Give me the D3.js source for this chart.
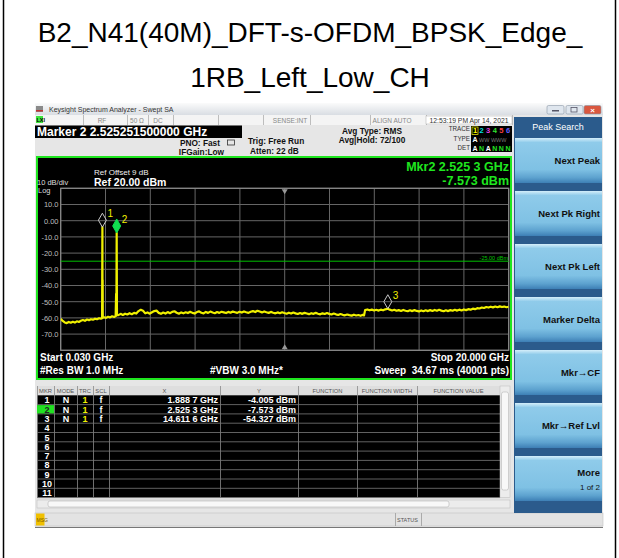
<!DOCTYPE html>
<html lang="en">
<head>
<meta charset="UTF-8">
<title>B2_N41(40M) spectrum</title>
<script src="https://cdn.jsdelivr.net/npm/d3@7"></script>
<style>
  body { margin: 0; background: #fff; }
  svg { display: block; font-family: "Liberation Sans", Arial, sans-serif; }
</style>
</head>
<body>
<svg id="chart" width="619" height="558"></svg>
<script>
// ---- data ----
const titleLines = ["B2_N41(40M)_DFT-s-OFDM_BPSK_Edge_", "1RB_Left_Low_CH"];

const yTickValues = [10, 0, -10, -20, -30, -40, -50, -60, -70];
const yTickLabels = ["10.0", "0.00", "-10.0", "-20.0", "-30.0", "-40.0", "-50.0", "-60.0", "-70.0"];

const displayLine = -25;

// trace 1: [GHz, dBm]
const tracePoints = [
  [0.03,-60.6],[0.12,-61.9],[0.21,-62.8],[0.30,-63.2],[0.39,-62.5],[0.48,-63.0],[0.57,-62.4],
  [0.66,-62.9],[0.75,-62.1],[0.84,-62.5],[0.93,-61.8],[1.02,-61.3],[1.11,-61.8],[1.20,-61.0],
  [1.29,-61.4],[1.38,-60.8],[1.47,-61.1],[1.56,-60.5],[1.65,-60.8],[1.74,-60.2],[1.82,-60.5],
  [1.875,-60.0],[1.8887,-4.005],[1.893,-60.2],[1.900,-36.6],[1.906,-59.8],
  [1.96,-59.6],[2.05,-60.0],[2.14,-59.3],[2.23,-59.7],[2.32,-59.0],[2.41,-59.4],[2.48,-58.9],
  [2.500,-45.2],[2.512,-58.6],[2.5253,-7.573],[2.538,-57.9],
  [2.60,-58.3],[2.70,-57.5],[2.80,-58.2],[2.90,-57.4],[3.00,-57.9],[3.10,-57.1],[3.20,-57.7],
  [3.30,-56.9],[3.40,-57.3],[3.50,-55.8],[3.60,-55.0],[3.70,-55.6],[3.80,-57.2],[3.90,-56.6],
  [4.00,-57.4],[4.10,-56.5],[4.20,-55.8],[4.30,-55.5],[4.40,-56.9],[4.50,-57.5],[4.60,-56.7],
  [4.70,-57.3],[4.80,-56.4],[4.90,-57.1],[5.00,-56.3],[5.10,-55.9],[5.20,-56.8],[5.30,-57.4],
  [5.40,-56.6],[5.50,-57.2],[5.60,-56.5],[5.70,-57.0],[5.80,-56.2],[5.90,-56.9],[6.00,-57.3],
  [6.10,-56.4],[6.20,-56.0],[6.30,-56.8],[6.40,-57.2],[6.50,-56.3],[6.60,-56.9],[6.70,-56.1],
  [6.80,-56.7],[6.90,-57.1],[7.00,-56.4],[7.10,-56.9],[7.20,-56.2],[7.30,-56.6],[7.40,-57.0],
  [7.50,-56.3],[7.60,-56.8],[7.70,-56.1],[7.80,-56.5],[7.90,-56.9],[8.00,-56.2],[8.10,-56.7],
  [8.20,-56.0],[8.30,-56.5],[8.40,-56.9],[8.50,-56.2],[8.60,-55.8],[8.70,-56.4],[8.80,-55.6],
  [8.90,-56.1],[9.00,-56.6],[9.10,-56.0],[9.20,-56.5],[9.30,-56.9],[9.40,-56.3],[9.50,-56.8],
  [9.60,-57.2],[9.70,-56.6],[9.80,-57.1],[9.90,-56.5],[10.00,-57.0],[10.10,-57.4],[10.20,-56.8],
  [10.30,-57.3],[10.40,-56.7],[10.50,-57.2],[10.60,-57.6],[10.70,-57.0],[10.80,-57.5],[10.90,-56.9],
  [11.00,-57.3],[11.10,-57.7],[11.20,-57.1],[11.30,-57.5],[11.40,-56.9],[11.50,-57.4],[11.60,-57.8],
  [11.70,-57.2],[11.80,-57.6],[11.90,-57.0],[12.00,-57.5],[12.10,-57.9],[12.20,-57.3],[12.30,-57.8],
  [12.40,-58.2],[12.50,-57.6],[12.60,-58.1],[12.70,-58.4],[12.80,-57.9],[12.90,-58.3],[13.00,-58.6],
  [13.10,-58.0],[13.20,-58.5],[13.30,-58.2],[13.40,-58.7],[13.50,-58.1],[13.55,-58.5],
  [13.60,-55.2],[13.70,-54.8],[13.80,-55.3],[13.90,-54.9],[14.00,-55.4],[14.10,-55.0],[14.20,-55.5],
  [14.30,-54.9],[14.40,-55.3],[14.50,-54.7],[14.6116,-54.327],[14.70,-54.9],[14.80,-55.4],
  [14.90,-55.0],[15.00,-55.6],[15.10,-55.2],[15.20,-55.7],[15.30,-55.1],[15.40,-55.6],[15.50,-55.9],
  [15.60,-55.3],[15.70,-55.8],[15.80,-55.2],[15.90,-55.7],[16.00,-56.0],[16.10,-55.4],[16.20,-55.9],
  [16.30,-55.3],[16.40,-55.8],[16.50,-55.2],[16.60,-55.7],[16.70,-55.1],[16.80,-55.6],[16.90,-55.0],
  [17.00,-55.5],[17.10,-55.9],[17.20,-55.3],[17.30,-55.8],[17.40,-55.2],[17.50,-55.6],[17.60,-55.0],
  [17.70,-55.5],[17.80,-54.9],[17.90,-55.4],[18.00,-54.8],[18.10,-55.2],[18.20,-54.6],[18.30,-54.9],
  [18.40,-54.3],[18.50,-54.6],[18.60,-54.0],[18.70,-54.2],[18.80,-53.6],[18.90,-53.9],[19.00,-53.3],
  [19.10,-53.6],[19.20,-53.1],[19.30,-53.5],[19.40,-53.0],[19.50,-53.4],[19.60,-52.9],[19.70,-53.3],
  [19.80,-53.0],[19.90,-53.4],[20.00,-53.1]
];

// markers
const markerIds = ["1", "2", "3"];
const markerFreq = [1.8887, 2.5253, 14.6116];
const markerLevel = [-4.005, -7.573, -54.327];
const markerXText = ["1.888 7 GHz", "2.525 3 GHz", "14.611 6 GHz"];
const markerYText = ["-4.005 dBm", "-7.573 dBm", "-54.327 dBm"];
const markerMode = ["N", "N", "N"];
const markerTrc = ["1", "1", "1"];
const markerScl = ["f", "f", "f"];

const tableHeaders = ["MKR", "MODE", "TRC", "SCL", "X", "Y", "FUNCTION", "FUNCTION WIDTH", "FUNCTION VALUE"];
const tableRows = ["1", "2", "3", "4", "5", "6", "7", "8", "9", "10", "11"];

const softkeys = ["Next Peak", "Next Pk Right", "Next Pk Left", "Marker Delta", "Mkr\u2192CF", "Mkr\u2192Ref Lvl", "More"];

// ---- drawing ----
const svg = d3.select("#chart");
const defs = svg.append("defs");

// page frame + title
svg.append("line").attr("x1", 3.5).attr("x2", 3.5).attr("y1", 0).attr("y2", 558).attr("stroke", "#000").attr("stroke-width", 1.5);
svg.append("line").attr("x1", 615.5).attr("x2", 615.5).attr("y1", 0).attr("y2", 558).attr("stroke", "#000").attr("stroke-width", 1.5);

svg.selectAll(".title").data(titleLines).enter().append("text")
  .attr("x", 310).attr("y", (d, i) => 42 + i * 45)
  .attr("text-anchor", "middle").attr("font-size", 28).attr("fill", "#000")
  .text(d => d);

// window background
svg.append("rect").attr("x", 35).attr("y", 103).attr("width", 568).attr("height", 425).attr("fill", "#e6e6e6");

// title bar
const tg = defs.append("linearGradient").attr("id", "tbar").attr("x1", 0).attr("x2", 0).attr("y1", 0).attr("y2", 1);
tg.append("stop").attr("offset", "0%").attr("stop-color", "#fbfbfb");
tg.append("stop").attr("offset", "100%").attr("stop-color", "#d9dde3");
svg.append("rect").attr("x", 35).attr("y", 103).attr("width", 568).attr("height", 12).attr("fill", "url(#tbar)");
svg.append("rect").attr("x", 36).attr("y", 106).attr("width", 7).attr("height", 6).attr("fill", "#8a8a8a");
svg.append("rect").attr("x", 36).attr("y", 110).attr("width", 7).attr("height", 1.5).attr("fill", "#c03030");
svg.append("text").attr("x", 49).attr("y", 112).attr("font-size", 7).attr("fill", "#333")
  .text("Keysight Spectrum Analyzer - Swept SA");
[[547, "#dfe6ee"], [566, "#dfe6ee"], [584, "#d9573f"]].forEach(([bx, c]) => {
  svg.append("rect").attr("x", bx).attr("y", 105.5).attr("width", 17).attr("height", 8.5).attr("rx", 1.5)
    .attr("fill", c).attr("stroke", "#8a97a6").attr("stroke-width", 0.6);
});
svg.append("rect").attr("x", 552).attr("y", 110).attr("width", 7).attr("height", 1.5).attr("fill", "#556");
svg.append("rect").attr("x", 571).attr("y", 107.5).attr("width", 6).attr("height", 4.5).attr("fill", "none").attr("stroke", "#556").attr("stroke-width", 0.8);
svg.append("text").attr("x", 592.5).attr("y", 112.5).attr("text-anchor", "middle").attr("font-size", 8).attr("font-weight", "bold").attr("fill", "#fff").text("\u00d7");

// status line (RF / 50 ohm / DC ...)
svg.append("rect").attr("x", 35).attr("y", 115).attr("width", 478).attr("height", 10).attr("fill", "#f4f4f4");
[83, 127, 148, 173, 218, 263, 310, 370, 426, 512].forEach(sx => {
  svg.append("line").attr("x1", sx + 0.5).attr("x2", sx + 0.5).attr("y1", 115).attr("y2", 125).attr("stroke", "#bdbdbd");
});
svg.append("rect").attr("x", 426).attr("y", 116).attr("width", 86).attr("height", 8).attr("fill", "#fff").attr("stroke", "#aaa").attr("stroke-width", 0.5);
svg.append("rect").attr("x", 36).attr("y", 116).attr("width", 7).attr("height", 7).attr("fill", "#3ee63e");
svg.append("text").attr("x", 36.5).attr("y", 122).attr("font-size", 5.5).attr("font-weight", "bold").attr("fill", "#000").text("LXI");
[["RF", 102], ["50 \u03a9", 137], ["DC", 158], ["SENSE:INT", 290], ["ALIGN AUTO", 392]].forEach(([t, tx]) => {
  svg.append("text").attr("x", tx).attr("y", 122.5).attr("text-anchor", "middle").attr("font-size", 6.5).attr("fill", "#888").text(t);
});
svg.append("text").attr("x", 469).attr("y", 122.5).attr("text-anchor", "middle").attr("font-size", 6.8).attr("fill", "#333").text("12:53:19 PM Apr 14, 2021");

// marker readout bar
svg.append("rect").attr("x", 35).attr("y", 125.5).attr("width", 207).attr("height", 12.5).attr("fill", "#000");
svg.append("text").attr("x", 37).attr("y", 136).attr("font-size", 12).attr("font-weight", "bold").attr("fill", "#fff")
  .text("Marker 2 2.525251500000 GHz");

const hdr = svg.append("g").attr("font-size", 8.3).attr("font-weight", "bold").attr("fill", "#111");
hdr.append("text").attr("x", 220).attr("y", 146).attr("text-anchor", "end").text("PNO: Fast");
hdr.append("text").attr("x", 224).attr("y", 155).attr("text-anchor", "end").text("IFGain:Low");
hdr.append("text").attr("x", 248).attr("y", 144).text("Trig: Free Run");
hdr.append("text").attr("x", 250).attr("y", 154).text("Atten: 22 dB");
hdr.append("text").attr("x", 372).attr("y", 134).attr("text-anchor", "middle").text("Avg Type: RMS");
hdr.append("text").attr("x", 372).attr("y", 143).attr("text-anchor", "middle").text("Avg|Hold: 72/100");
svg.append("rect").attr("x", 227.5).attr("y", 140).attr("width", 7).attr("height", 5).attr("fill", "none").attr("stroke", "#333").attr("stroke-width", 0.8);

// trace/type/det box
const tdg = svg.append("g").attr("font-size", 6.3).attr("fill", "#333");
tdg.append("text").attr("x", 470).attr("y", 131).attr("text-anchor", "end").text("TRACE");
tdg.append("text").attr("x", 470).attr("y", 141).attr("text-anchor", "end").text("TYPE");
tdg.append("text").attr("x", 470).attr("y", 150).attr("text-anchor", "end").text("DET");
svg.append("rect").attr("x", 471).attr("y", 126).attr("width", 41).attr("height", 26).attr("fill", "#000");
const traceCols = ["#ffff00", "#00e0e0", "#e040e0", "#30e030", "#ff4040", "#6060ff"];
traceCols.forEach((c, i) => {
  svg.append("text").attr("x", 475 + i * 6.6).attr("y", 133).attr("text-anchor", "middle")
    .attr("font-size", 7.5).attr("font-weight", "bold").attr("fill", c).text(i + 1);
});
svg.append("rect").attr("x", 472).attr("y", 127).attr("width", 6).attr("height", 7.5).attr("fill", "none").attr("stroke", "#ffff00").attr("stroke-width", 0.7);
svg.append("text").attr("x", 475).attr("y", 142).attr("text-anchor", "middle").attr("font-size", 7).attr("font-weight", "bold").attr("fill", "#fff").text("A");
svg.append("text").attr("x", 479).attr("y", 142).attr("font-size", 5.5).attr("fill", "#777").text("WW WWW");
["A", "N", "A", "N", "N", "N"].forEach((t, i) => {
  svg.append("text").attr("x", 475 + i * 6.6).attr("y", 150.5).attr("text-anchor", "middle")
    .attr("font-size", 7).attr("font-weight", "bold").attr("fill", t === "A" ? "#fff" : "#20e020").text(t);
});

// ---- graph panel ----
svg.append("rect").attr("x", 37).attr("y", 157).attr("width", 474).attr("height", 222)
  .attr("fill", "#000").attr("stroke", "#1fe61f").attr("stroke-width", 2);

const x = d3.scaleLinear().domain([0.03, 20]).range([60.7, 508.7]);
const y = d3.scaleLinear().domain([-80, 20]).range([350.3, 188.3]);

const gridF = d3.range(11).map(i => 0.03 + i * (20 - 0.03) / 10);
const gridL = d3.range(-80, 21, 10);
const grid = svg.append("g").attr("stroke", "#666").attr("stroke-width", 1);
grid.selectAll(".vg").data(gridF).enter().append("line")
  .attr("x1", d => x(d)).attr("x2", d => x(d)).attr("y1", y(20)).attr("y2", y(-80));
grid.selectAll(".hg").data(gridL).enter().append("line")
  .attr("x1", x(0.03)).attr("x2", x(20)).attr("y1", d => y(d)).attr("y2", d => y(d));
svg.append("rect").attr("x", x(0.03)).attr("y", y(20)).attr("width", x(20) - x(0.03)).attr("height", y(-80) - y(20))
  .attr("fill", "none").attr("stroke", "#8a8a8a").attr("stroke-width", 1.2);

// center triangles
const cx0 = x(gridF[5]);
svg.append("path").attr("d", `M${cx0 - 3},${y(20) + 1}L${cx0 + 3},${y(20) + 1}L${cx0},${y(20) + 6}Z`).attr("fill", "#999");
svg.append("path").attr("d", `M${cx0 - 3},${y(-80) - 1}L${cx0 + 3},${y(-80) - 1}L${cx0},${y(-80) - 6}Z`).attr("fill", "#999");

// y labels via axis
const yAxis = svg.append("g").attr("transform", "translate(58.5,0)")
  .call(d3.axisLeft(y).tickValues(yTickValues).tickSize(0).tickPadding(0).tickFormat((d, i) => yTickLabels[i]));
yAxis.select(".domain").remove();
yAxis.selectAll("text").attr("fill", "#bdbdbd").attr("font-size", 7.5).attr("font-family", "Liberation Sans, Arial, sans-serif");

// display line
svg.append("line").attr("x1", x(0.03)).attr("x2", x(20)).attr("y1", y(displayLine)).attr("y2", y(displayLine))
  .attr("stroke", "#00c000").attr("stroke-width", 1);
svg.append("text").attr("x", 508).attr("y", y(displayLine) - 1.5).attr("text-anchor", "end")
  .attr("font-size", 5.5).attr("fill", "#00c000").text("-25.00 dBm");

// panel texts
svg.append("text").attr("x", 37).attr("y", 184.5).attr("font-size", 7.5).attr("fill", "#ddd").text("10 dB/div");
svg.append("text").attr("x", 38).attr("y", 193).attr("font-size", 7.5).attr("fill", "#ddd").text("Log");
svg.append("text").attr("x", 94).attr("y", 175).attr("font-size", 8).attr("fill", "#eee").text("Ref Offset 9 dB");
svg.append("text").attr("x", 94).attr("y", 186).attr("font-size", 10.5).attr("font-weight", "bold").attr("fill", "#fff").text("Ref 20.00 dBm");
svg.append("text").attr("x", 509).attr("y", 171).attr("text-anchor", "end").attr("font-size", 12.5).attr("font-weight", "bold")
  .attr("fill", "#1fe61f").text("Mkr2 2.525 3 GHz");
svg.append("text").attr("x", 509).attr("y", 184.5).attr("text-anchor", "end").attr("font-size", 12.5).attr("font-weight", "bold")
  .attr("fill", "#1fe61f").text("-7.573 dBm");

// trace
defs.append("clipPath").attr("id", "plotclip").append("rect")
  .attr("x", x(0.03)).attr("y", y(20)).attr("width", x(20) - x(0.03)).attr("height", y(-80) - y(20));
const line = d3.line().x(d => x(d[0])).y(d => y(d[1]));
svg.append("path").datum(tracePoints).attr("clip-path", "url(#plotclip)")
  .attr("fill", "none").attr("stroke", "#f0f000").attr("stroke-width", 2.2).attr("stroke-linejoin", "round")
  .attr("d", line);

// markers
markerIds.forEach((id, i) => {
  const mx = x(markerFreq[i]);
  const my = y(markerLevel[i]);
  const active = i === 1;
  svg.append("path")
    .attr("d", `M${mx},${my}L${mx + 4},${my - 7}L${mx},${my - 14}L${mx - 4},${my - 7}Z`)
    .attr("fill", active ? "#10e050" : "none")
    .attr("stroke", active ? "#10e050" : "#c8c8c8").attr("stroke-width", 1);
  svg.append("text").attr("x", mx + 5).attr("y", my - 10).attr("font-size", 10)
    .attr("fill", "#f0f000").text(id);
});

// footer texts
const foot = svg.append("g").attr("font-size", 10).attr("font-weight", "bold").attr("fill", "#fff");
foot.append("text").attr("x", 40).attr("y", 361).text("Start 0.030 GHz");
foot.append("text").attr("x", 509).attr("y", 361).attr("text-anchor", "end").text("Stop 20.000 GHz");
foot.append("text").attr("x", 40).attr("y", 374).text("#Res BW 1.0 MHz");
foot.append("text").attr("x", 210).attr("y", 374).text("#VBW 3.0 MHz*");
foot.append("text").attr("x", 509).attr("y", 374).attr("text-anchor", "end").attr("xml:space", "preserve").text("Sweep  34.67 ms (40001 pts)");

// ---- marker table ----
const colX = [37, 54, 77, 93, 109, 220, 298, 357, 417, 500];
const headTop = 386, rowTop = 395.3, rowH = 9.3;
svg.append("rect").attr("x", 37).attr("y", headTop).attr("width", 463).attr("height", rowTop - headTop).attr("fill", "#dedede");
svg.append("rect").attr("x", 37).attr("y", rowTop).attr("width", 463).attr("height", rowH * 11).attr("fill", "#000");
tableHeaders.forEach((h, i) => {
  svg.append("text").attr("x", (colX[i] + colX[i + 1]) / 2).attr("y", headTop + 6.5).attr("text-anchor", "middle")
    .attr("font-size", 5.8).attr("fill", "#555").text(h);
});
colX.forEach(cx => {
  svg.append("line").attr("x1", cx + 0.5).attr("x2", cx + 0.5).attr("y1", headTop).attr("y2", rowTop + rowH * 11).attr("stroke", "#8a8a8a").attr("stroke-width", 0.8);
});
tableRows.forEach((r, i) => {
  const ty = rowTop + i * rowH;
  svg.append("line").attr("x1", 37).attr("x2", 500).attr("y1", ty + rowH).attr("y2", ty + rowH).attr("stroke", "#7a7a7a").attr("stroke-width", 0.8);
  if (i === 1) svg.append("rect").attr("x", 37).attr("y", ty + 0.5).attr("width", 17).attr("height", rowH - 1).attr("fill", "#22e022");
  svg.append("text").attr("x", 47).attr("y", ty + 8).attr("text-anchor", "middle").attr("font-size", 9).attr("font-weight", "bold")
    .attr("fill", i === 1 ? "#222" : "#fff").text(r);
});
markerIds.forEach((id, i) => {
  const ty = rowTop + i * rowH + 8;
  const g = svg.append("g").attr("font-size", 9).attr("font-weight", "bold").attr("fill", "#fff");
  g.append("text").attr("x", 66).attr("y", ty).attr("text-anchor", "middle").text(markerMode[i]);
  g.append("text").attr("x", 85).attr("y", ty).attr("text-anchor", "middle").attr("fill", "#f0f000").text(markerTrc[i]);
  g.append("text").attr("x", 101).attr("y", ty).attr("text-anchor", "middle").text(markerScl[i]);
  g.append("text").attr("x", 218).attr("y", ty).attr("text-anchor", "end").text(markerXText[i]);
  g.append("text").attr("x", 296).attr("y", ty).attr("text-anchor", "end").text(markerYText[i]);
});
// scrollbars
svg.append("rect").attr("x", 500).attr("y", headTop).attr("width", 10).attr("height", rowH * 11 + (rowTop - headTop)).attr("fill", "#ececec").attr("stroke", "#bbb").attr("stroke-width", 0.5);
svg.append("rect").attr("x", 501.5).attr("y", 392).attr("width", 7).attr("height", 98).attr("rx", 2).attr("fill", "#f8f8f8").attr("stroke", "#aaa").attr("stroke-width", 0.5);
svg.append("rect").attr("x", 37).attr("y", 500).attr("width", 473).attr("height", 8).attr("fill", "#ececec").attr("stroke", "#bbb").attr("stroke-width", 0.5);
svg.append("rect").attr("x", 48).attr("y", 501).attr("width", 401).attr("height", 6).attr("rx", 2).attr("fill", "#f8f8f8").attr("stroke", "#aaa").attr("stroke-width", 0.5);

// ---- status bar ----
svg.append("rect").attr("x", 35).attr("y", 513).attr("width", 568).attr("height", 13).attr("fill", "#e3e3e3").attr("stroke", "#c2c2c2").attr("stroke-width", 0.6);
svg.append("rect").attr("x", 36).attr("y", 513.5).attr("width", 8.5).attr("height", 12).attr("fill", "#f0c000");
svg.append("text").attr("x", 36.5).attr("y", 521.5).attr("font-size", 5).attr("fill", "#7a5a00").text("MSG");
svg.append("line").attr("x1", 395.5).attr("x2", 395.5).attr("y1", 513).attr("y2", 526).attr("stroke", "#aaa");
svg.append("line").attr("x1", 421.5).attr("x2", 421.5).attr("y1", 513).attr("y2", 526).attr("stroke", "#aaa");
svg.append("text").attr("x", 397).attr("y", 521.5).attr("font-size", 5.5).attr("fill", "#555").text("STATUS");
svg.append("line").attr("x1", 35).attr("x2", 603).attr("y1", 527.5).attr("y2", 527.5).attr("stroke", "#777");

// ---- softkey panel ----
svg.append("rect").attr("x", 514).attr("y", 117).attr("width", 88).attr("height", 396).attr("fill", "#2b5b8c");
svg.append("text").attr("x", 558).attr("y", 130).attr("text-anchor", "middle").attr("font-size", 9).attr("fill", "#fff").text("Peak Search");
const kg = defs.append("linearGradient").attr("id", "key").attr("x1", 0).attr("x2", 0).attr("y1", 0).attr("y2", 1);
[["0%", "#d4eefa"], ["10%", "#8fcbea"], ["70%", "#7fc1e4"], ["88%", "#5da2cf"], ["100%", "#3d7fb5"]].forEach(([o, c]) =>
  kg.append("stop").attr("offset", o).attr("stop-color", c));
softkeys.forEach((k, i) => {
  const ky = 138 + i * 53;
  svg.append("rect").attr("x", 515).attr("y", ky).attr("width", 87).attr("height", 45).attr("fill", "url(#key)");
  svg.append("text").attr("x", 600).attr("y", i === 6 ? ky + 20 : ky + 26).attr("text-anchor", "end")
    .attr("font-size", 9.5).attr("font-weight", "bold").attr("fill", "#111").text(k);
});
svg.append("text").attr("x", 600).attr("y", 138 + 6 * 53 + 34).attr("text-anchor", "end")
  .attr("font-size", 8).attr("fill", "#111").text("1 of 2");
</script>
</body>
</html>
